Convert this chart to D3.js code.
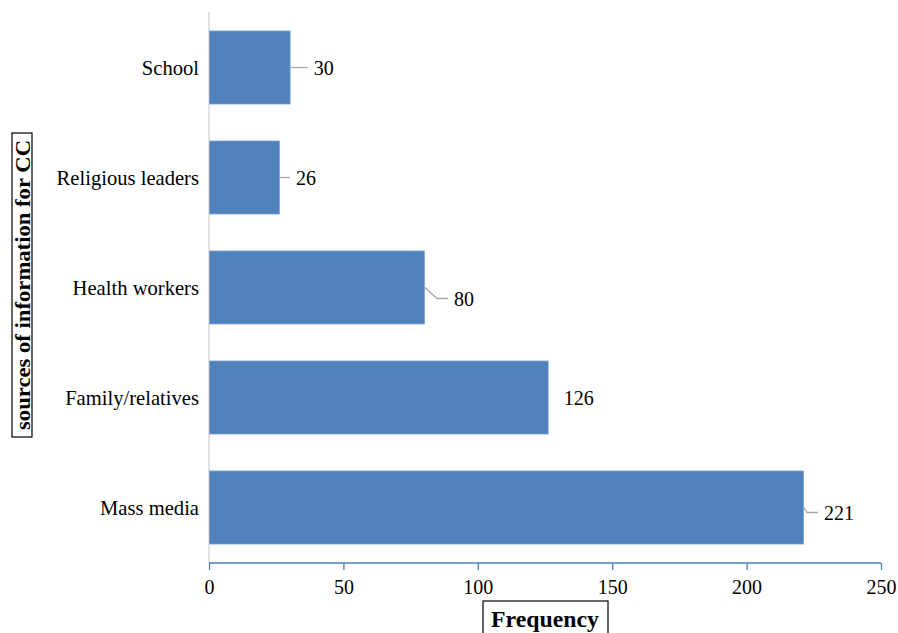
<!DOCTYPE html>
<html><head><meta charset="utf-8">
<script src="https://cdn.jsdelivr.net/npm/d3@7"></script>
<style>body{margin:0;background:#fff}svg{display:block}text{font-family:"Liberation Serif","Times New Roman",serif}</style>
</head><body>
<svg id="c" width="898" height="633"></svg>
<script>
const categories = ["School","Religious leaders","Health workers","Family/relatives","Mass media"];
const values = [30,26,80,126,221];
const xTicks = [0,50,100,150,200,250];
const xTitle = "Frequency";
const yTitle = "sources of information for CC";

const svg = d3.select("#c");
const x = d3.scaleLinear().domain([0,250]).range([209,881]);
const y = d3.scaleBand().domain(categories).range([12.5,562.5]).paddingInner(0.336).paddingOuter(0.168);

// left axis line
svg.append("line").attr("x1",209).attr("x2",209).attr("y1",12).attr("y2",563)
  .attr("stroke","#d9d9d9").attr("stroke-width",1.5);

// bars
svg.selectAll("rect.bar").data(values).enter().append("rect")
  .attr("x",x(0)+0.5).attr("y",(d,i)=>y(categories[i]))
  .attr("width",d=>x(d)-x(0)).attr("height",y.bandwidth())
  .attr("fill","#4f81bd").attr("stroke","#7fa3d3").attr("stroke-width",0.8);

// x axis
const xa = svg.append("g").attr("transform","translate(0,563)")
  .call(d3.axisBottom(x).tickValues(xTicks).tickSize(7).tickPadding(10).tickFormat(d3.format("d")));
xa.select(".domain").attr("stroke","#4a7ebb").attr("stroke-width",1.3).attr("d","M209,0H881");
xa.selectAll(".tick line").attr("stroke","#4a7ebb").attr("stroke-width",1.3);
xa.selectAll(".tick text").attr("font-size",20).attr("fill","#000");

// category labels
svg.selectAll("text.cat").data(categories).enter().append("text")
  .attr("x",199).attr("y",d=>y(d)+y.bandwidth()/2).attr("dy","0.35em")
  .attr("text-anchor","end").attr("font-size",20.6).attr("fill","#000").text(d=>d);

// value labels with leader lines
const lblOff = [{dx:23,dy:0,line:true},{dx:16,dy:0,line:true},{dx:29,dy:11,line:true,bend:true},{dx:15,dy:0,line:false},{dx:20,dy:5,line:true,bend:true}];
values.forEach((v,i)=>{
  const cy = y(categories[i])+y.bandwidth()/2;
  const bx = x(v)+1;
  const o = lblOff[i];
  if(o.line){
    let path;
    if(o.bend){ path = `M${bx},${cy} L${bx+o.dx-17},${cy+o.dy} L${bx+o.dx-6},${cy+o.dy}`; }
    else { path = `M${bx},${cy} L${bx+o.dx-6},${cy}`; }
    svg.append("path").attr("d",path).attr("fill","none").attr("stroke","#a6a6a6").attr("stroke-width",1.3);
  }
  svg.append("text").attr("x",bx+o.dx).attr("y",cy+o.dy).attr("dy","0.35em")
    .attr("font-size",20).attr("fill","#000").text(v);
});

// y title with box
const yt = svg.append("g").attr("transform","translate(22,285) rotate(-90)");
yt.append("rect").attr("x",-152).attr("y",-10).attr("width",304).attr("height",20)
  .attr("fill","none").attr("stroke","#000").attr("stroke-width",1.2);
yt.append("text").attr("text-anchor","middle").attr("dy","0.35em").attr("font-weight","bold")
  .attr("font-size",21.5).attr("textLength",290).attr("lengthAdjust","spacingAndGlyphs").text(yTitle);

// x title with box
svg.append("rect").attr("x",483).attr("y",601).attr("width",125).attr("height",40)
  .attr("fill","none").attr("stroke","#000").attr("stroke-width",1.2);
svg.append("text").attr("x",545).attr("y",627).attr("text-anchor","middle").attr("font-weight","bold")
  .attr("font-size",23.5).attr("textLength",108).attr("lengthAdjust","spacingAndGlyphs").text(xTitle);
</script>
</body></html>
